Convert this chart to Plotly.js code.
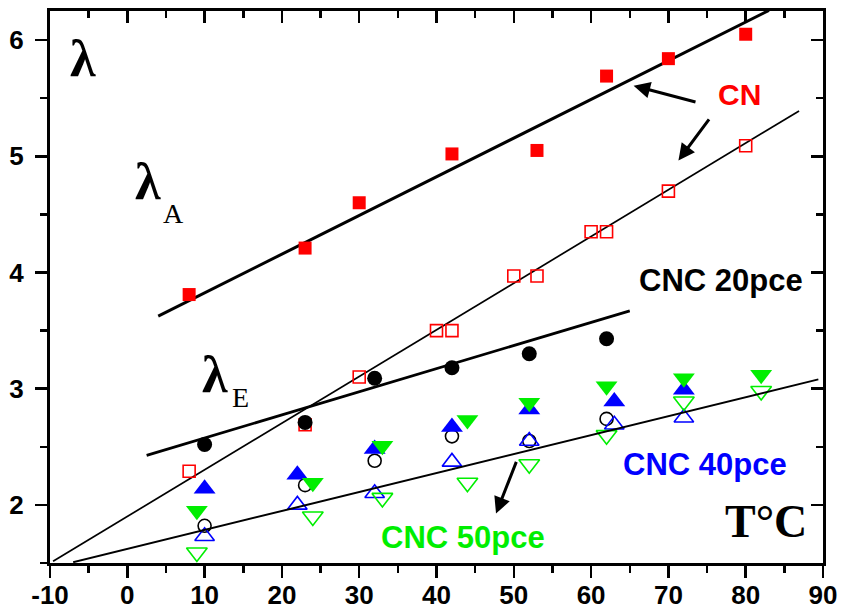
<!DOCTYPE html>
<html>
<head>
<meta charset="utf-8">
<script src="https://cdn.plot.ly/plotly-3.0.1.min.js"></script>
<style>html,body{margin:0;padding:0;background:#fff;}#chart{width:845px;height:612px;}</style>
</head>
<body>
<div id="chart"></div>
<script>
// ---- data ----
const cnFilledX = [8, 23, 30, 42, 53, 62, 70, 80];
const cnFilledY = [3.81, 4.21, 4.60, 5.02, 5.05, 5.69, 5.84, 6.05];
const cnOpenX = [8, 23, 30, 40, 42, 50, 53, 60, 62, 70, 80];
const cnOpenY = [2.29, 2.69, 3.10, 3.50, 3.50, 3.97, 3.97, 4.35, 4.35, 4.70, 5.09];
const cnc20FilledX = [10, 23, 32, 42, 52, 62];
const cnc20FilledY = [2.52, 2.71, 3.09, 3.18, 3.30, 3.43];
const cnc40FilledX = [10, 22, 32, 42, 52, 63, 72];
const cnc40FilledY = [2.14, 2.26, 2.48, 2.67, 2.82, 2.89, 2.99];
const cnc50FilledX = [9, 24, 33, 44, 52, 62, 72, 82];
const cnc50FilledY = [1.95, 2.19, 2.51, 2.73, 2.88, 3.02, 3.09, 3.12];
const cnc20OpenX = [10, 23, 32, 42, 52, 62];
const cnc20OpenY = [1.82, 2.17, 2.38, 2.59, 2.55, 2.74];
const cnc40OpenX = [10, 22, 32, 42, 52, 63, 72];
const cnc40OpenY = [1.73, 2.00, 2.10, 2.37, 2.55, 2.69, 2.75];
const cnc50OpenX = [9, 24, 33, 44, 52, 62, 72, 82];
const cnc50OpenY = [1.59, 1.90, 2.06, 2.19, 2.35, 2.60, 2.89, 2.98];
// fitted lines (end points)
const fitAX = [4, 83];        const fitAY = [3.625, 6.255];
const fitCNOpenX = [-9.6, 86.9]; const fitCNOpenY = [1.515, 5.39];
const fitCNC20X = [2.5, 65];  const fitCNC20Y = [2.426, 3.67];
const fitLowX = [-7, 89.4];   const fitLowY = [1.507, 3.08];
const xTicks = [-10, 0, 10, 20, 30, 40, 50, 60, 70, 80, 90];
const yTicks = [2, 3, 4, 5, 6];

const RED = '#ff0000', BLUE = '#0000ff', GREEN = '#00ee00', BLACK = '#000000';

function line(x, y, w, onTop) {
  const t = {x: x, y: y, mode: 'lines', line: {color: BLACK, width: w}, hoverinfo: 'skip', showlegend: false};
  if (onTop) { t.xaxis = 'x2'; t.yaxis = 'y2'; }
  return t;
}
function pts(x, y, symbol, color, size, lw) {
  return {x: x, y: y, mode: 'markers', showlegend: false, cliponaxis: false,
    marker: {symbol: symbol, color: color, size: size, line: {color: color, width: lw || 0}}};
}

const traces = [
  line(fitAX, fitAY, 3),
  line(fitCNOpenX, fitCNOpenY, 1.7),
  line(fitCNC20X, fitCNC20Y, 2.8),
  pts(cnFilledX, cnFilledY, 'square', RED, 13),
  pts(cnOpenX, cnOpenY, 'square-open', RED, 12, 1.6),
  pts(cnc20FilledX, cnc20FilledY, 'circle', BLACK, 15),
  pts(cnc20OpenX, cnc20OpenY, 'circle-open', BLACK, 13, 1.6),
  pts(cnc40OpenX, cnc40OpenY, 'triangle-up-open', BLUE, 17, 1.6),
  pts(cnc50OpenX, cnc50OpenY, 'triangle-down-open', GREEN, 18, 1.6),
  pts(cnc40FilledX, cnc40FilledY, 'triangle-up', BLUE, 19),
  pts(cnc50FilledX, cnc50FilledY, 'triangle-down', GREEN, 19),
  // lower fit line drawn on the overlay axes (identical ranges) so those mirror-tick axes are created
  line(fitLowX, fitLowY, 2, true)
];

const tickFont = {family: 'Liberation Sans, Arial, sans-serif', size: 26, color: BLACK, weight: 'bold'};
const serif = 'Liberation Serif, Times New Roman, serif';
const sans = 'Liberation Sans, Arial, sans-serif';

function txt(x, y, text, size, color, family, bold) {
  return {x: x, y: y, xref: 'x', yref: 'y', text: bold ? '<b>' + text + '</b>' : text, showarrow: false,
    font: {family: family, size: size, color: color}, xanchor: 'center', yanchor: 'middle'};
}
function arrow(x, y, ax, ay) {
  return {x: x, y: y, ax: ax, ay: ay, xref: 'x', yref: 'y', axref: 'x', ayref: 'y', text: '',
    showarrow: true, arrowhead: 2, arrowsize: 1.1, arrowwidth: 3, arrowcolor: BLACK};
}

const layout = {
  width: 845, height: 612,
  margin: {l: 50, r: 22, t: 11, b: 49},
  paper_bgcolor: '#fff', plot_bgcolor: '#fff',
  showlegend: false,
  xaxis: {range: [-10, 90], tickvals: xTicks, ticktext: xTicks.map(String), ticks: 'outside', ticklen: 12, tickwidth: 2.5,
    tickcolor: BLACK, showline: true, linewidth: 3, linecolor: BLACK, mirror: true, showgrid: false, zeroline: false,
    tickfont: tickFont, ticklabelstandoff: -5,
    minor: {dtick: 5, tick0: -10, ticks: 'outside', ticklen: 7, tickwidth: 2.5, tickcolor: BLACK, showgrid: false}},
  yaxis: {range: [1.5, 6.25], tickvals: yTicks, ticktext: yTicks.map(String), ticks: 'outside', ticklen: 12, tickwidth: 2.5,
    tickcolor: BLACK, showline: true, linewidth: 3, linecolor: BLACK, mirror: true, showgrid: false, zeroline: false,
    tickfont: tickFont, ticklabelstandoff: 6,
    minor: {dtick: 0.5, tick0: 1.5, ticks: 'outside', ticklen: 7, tickwidth: 2.5, tickcolor: BLACK, showgrid: false}},
  xaxis2: {overlaying: 'x', anchor: 'y2', side: 'top', range: [-10, 90], tickvals: xTicks, ticks: 'inside', ticklen: 12,
    tickwidth: 2.5, tickcolor: BLACK, showticklabels: false, showgrid: false, zeroline: false, showline: false,
    minor: {dtick: 5, tick0: -10, ticks: 'inside', ticklen: 7, tickwidth: 2.5, tickcolor: BLACK, showgrid: false}},
  yaxis2: {overlaying: 'y', anchor: 'x2', side: 'right', range: [1.5, 6.25], tickvals: yTicks, ticks: 'inside', ticklen: 12,
    tickwidth: 2.5, tickcolor: BLACK, showticklabels: false, showgrid: false, zeroline: false, showline: false,
    minor: {dtick: 0.5, tick0: 1.5, ticks: 'inside', ticklen: 7, tickwidth: 2.5, tickcolor: BLACK, showgrid: false}},
  annotations: [
    txt(-5.7, 5.84, '<b>λ</b>', 52, BLACK, serif, false),
    txt(2.7, 4.78, '<b>λ</b>', 52, BLACK, serif, false),
    txt(6.0, 4.51, 'A', 28, BLACK, serif, false),
    txt(11.3, 3.12, '<b>λ</b>', 52, BLACK, serif, false),
    txt(14.6, 2.92, 'E', 28, BLACK, serif, false),
    txt(82.6, 1.86, 'T°C', 46, BLACK, serif, true),
    txt(79.2, 5.53, 'CN', 30, RED, sans, true),
    txt(76.8, 3.93, 'CNC 20pce', 31, BLACK, sans, true),
    txt(74.7, 2.35, 'CNC 40pce', 31, BLUE, sans, true),
    txt(43.4, 1.72, 'CNC 50pce', 31, GREEN, sans, true),
    arrow(65.5, 5.607, 73.7, 5.464),
    arrow(71.3, 4.964, 75.4, 5.33),
    arrow(47.7, 1.925, 50.4, 2.383)
  ]
};

Plotly.newPlot('chart', traces, layout, {staticPlot: true, displayModeBar: false});
</script>
</body>
</html>
